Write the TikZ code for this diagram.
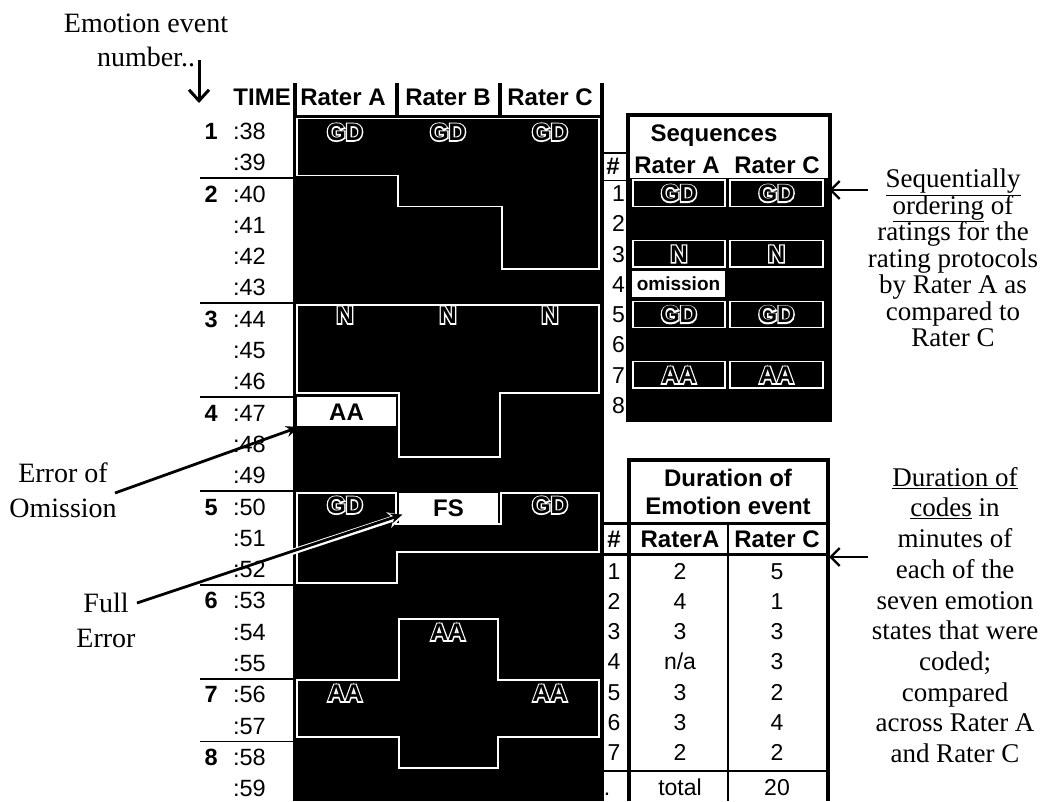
\documentclass[tikz,border=0pt]{standalone}
\usepackage{fontspec}
\setmainfont{Liberation Serif}
\setsansfont{Liberation Sans}
\usetikzlibrary{arrows.meta}
\tikzset{
  hdr/.style={font=\sffamily\bfseries\fontsize{24}{26}\selectfont, inner sep=0pt, text height=17pt, text depth=0pt},
  tm/.style={font=\sffamily\fontsize{23.5}{25}\selectfont, inner sep=0pt, anchor=east, text height=16.8pt, text depth=0pt},
  evn/.style={tm, font=\sffamily\bfseries\fontsize{23.5}{25}\selectfont},
  num/.style={font=\sffamily\fontsize{23}{25}\selectfont, inner sep=0pt, text height=16.5pt, text depth=0pt},
  codeW/.style={font=\sffamily\bfseries\fontsize{24}{26}\selectfont\addfontfeature{FakeBold=11}, inner sep=0pt, text=white, text height=17pt, text depth=0pt},
  codeB/.style={font=\sffamily\bfseries\fontsize{24}{26}\selectfont, inner sep=0pt, text=black, text height=17pt, text depth=0pt},
  ann/.style={align=center, inner sep=0pt},
  wline/.style={draw=white, line width=1.3pt, line join=miter},
  bar/.style={line width=#1},
}
\newcommand\hcode[4]{%
  \node[codeW] (#1w) at (#2,#3) {#4};%
  \node[codeB] (#1) at (#2,#3) {#4};}
\begin{document}
\begin{tikzpicture}[x=1pt,y=-1pt]
\useasboundingbox[fill=white] (0,0) rectangle (1048,801);

% ---------- main grid ----------
\fill[black] (293,115) rectangle (604,801);
\foreach \x in {295,397,500,602} \draw[bar=4pt] (\x,83) -- (\x,116);
\node[hdr, anchor=east] (time) at (291,97) {TIME};
\node[hdr] (ra) at (343,97) {Rater A};
\node[hdr] (rb) at (448,97) {Rater B};
\node[hdr] (rc) at (550,97) {Rater C};

% time labels and event numbers
\foreach \i in {0,...,21} {
  \pgfmathtruncatemacro\t{38+\i}
  \node[tm] (t\i) at (266,{115.4+31.3*(\i+0.5)}) {:\t};
}
\foreach \n/\r in {1/0,2/2,3/6,4/9,5/12,6/15,7/18,8/20}
  \node[evn] (e\n) at (218,{115.4+31.3*(\r+0.5)}) {\n};
\foreach \r in {2,6,9,12,15,18,20}
  \draw[bar=1.8pt] (200,{115.4+31.3*\r}) -- (294,{115.4+31.3*\r});

% white outlines of agreeing events
\draw[wline] (297,118.5) -- (599,118.5) -- (599,269) -- (502,269) -- (502,206.5)
  -- (398,206.5) -- (398,175.5) -- (297,175.5) -- cycle;
\draw[wline] (297,305) -- (599,305) -- (599,393) -- (500,393) -- (500,457)
  -- (399,457) -- (399,393) -- (297,393) -- cycle;
\draw[wline] (297,493) -- (396,493) -- (396,524) -- (501,524) -- (501,493)
  -- (599,493) -- (599,552) -- (397,552) -- (397,583) -- (297,583) -- cycle;
\draw[wline] (399,619) -- (498,619) -- (498,680) -- (599,680) -- (599,737)
  -- (498,737) -- (498,768) -- (399,768) -- (399,737) -- (297,737)
  -- (297,680) -- (399,680) -- cycle;

% white error boxes
\fill[white] (297,397) rectangle (396,426);
\node[codeB] (aaA) at (346.5,411.5) {AA};
\fill[white] (399,493) rectangle (498,523);
\node[codeB] (fsB) at (448.5,508) {FS};

% hollow codes
\hcode{gd1a}{345}{132}{GD}
\hcode{gd1b}{448}{132}{GD}
\hcode{gd1c}{550}{132}{GD}
\hcode{n3a}{345}{315}{N}
\hcode{n3b}{448}{315}{N}
\hcode{n3c}{550}{315}{N}
\hcode{gd5a}{345}{505}{GD}
\hcode{gd5c}{550}{505}{GD}
\hcode{aa7b}{448}{632}{AA}
\hcode{aa7a}{345}{693}{AA}
\hcode{aa7c}{550}{693}{AA}

% ---------- sequences table ----------
\fill[black] (628,178) rectangle (830,422);
\draw[bar=4pt, line join=miter] (628,422) -- (628,115) -- (830,115) -- (830,422);
\draw[bar=2.5pt] (603,153) -- (628,153);
\draw[bar=1pt] (604,180) -- (628,180);
\node[hdr] (seqh) at (714,133) {Sequences};
\node[hdr] (sqra) at (677,165) {Rater A};
\node[hdr] (sqrc) at (777,165) {Rater C};
\node[hdr] (sqn) at (613,166) {\#};
\foreach \j in {1,...,8}
  \node[num, anchor=east] (sn\j) at (625,{178+30.3*(\j-0.5)}) {\j};
\foreach \j in {1,3,5,7} {
  \draw[wline] (633,{178+30.3*(\j-1)+2}) rectangle (725,{178+30.3*\j-2});
  \draw[wline] (730,{178+30.3*(\j-1)+2}) rectangle (823,{178+30.3*\j-2});
}
\fill[white] (632,{178+30.3*3+2}) rectangle (725,{178+30.3*4-2});
\node[font=\sffamily\bfseries\fontsize{19}{21}\selectfont, inner sep=0pt] (omis) at (678.5,{178+30.3*3.5}) {omission};
\hcode{s1a}{679}{193.2}{GD}
\hcode{s1c}{776.5}{193.2}{GD}
\hcode{s3a}{679}{253.8}{N}
\hcode{s3c}{776.5}{253.8}{N}
\hcode{s5a}{679}{314.4}{GD}
\hcode{s5c}{776.5}{314.4}{GD}
\hcode{s7a}{679}{375}{AA}
\hcode{s7c}{776.5}{375}{AA}

% ---------- duration table ----------
\draw[bar=4pt, line join=miter] (629,801) -- (629,460) -- (828,460) -- (828,801);
\draw[bar=3pt] (603,523) -- (830,523);
\draw[bar=3pt] (603,554) -- (830,554);
\draw[bar=2pt] (603,771) -- (830,771);
\draw[bar=2.5pt] (728,523) -- (728,801);
\node[hdr] (dh1) at (728,478) {Duration of};
\node[hdr] (dh2) at (728,506) {Emotion event};
\node[hdr] (dhn) at (614,539) {\#};
\node[hdr] (dha) at (680,539) {RaterA};
\node[hdr] (dhc) at (777,539) {Rater C};
\foreach \i/\c in {1/5,2/1,3/3,4/3,5/2,6/4,7/2} {
  \node[num] (dn\i) at (614,{571+30.2*(\i-1)}) {\i};
  \node[num] (dc\i) at (777,{571+30.2*(\i-1)}) {\c};
}
\node[num] (da1) at (680,571) {2};
\node[num] (da2) at (680,601.2) {4};
\node[num] (da3) at (680,631.4) {3};
\node[num] (da4) at (680,661.6) {n/a};
\node[num] (da5) at (680,691.8) {3};
\node[num] (da6) at (680,722) {3};
\node[num] (da7) at (680,752.2) {2};
\node[num] (ddot) at (607,787) {.};
\node[num] (dtot) at (680,787) {total};
\node[num] (dsum) at (777,787) {20};

% ---------- annotations ----------
\node[ann, font={\fontsize{28}{34}\selectfont\lineskiplimit=-20pt}] (evt) at (146,40) {Emotion event\\number..};
\node[ann, font={\fontsize{28}{35}\selectfont\lineskiplimit=-20pt}] (omi) at (63,490) {Error of\\Omission};
\node[ann, font={\fontsize{28}{35}\selectfont\lineskiplimit=-20pt}] (full) at (106,620) {Full\\Error};
\node[ann, font={\fontsize{27}{26.5}\selectfont\lineskiplimit=-20pt}] (seqt) at (953,258)
  {\underline{Sequentially}\\\underline{ordering} of\\ratings for the\\rating protocols\\by Rater A as\\compared to\\Rater C};
\node[ann, font={\fontsize{27}{30.7}\selectfont\lineskiplimit=-20pt}] (durt) at (955,615)
  {\underline{Duration of}\\\underline{codes} in\\minutes of\\each of the\\seven emotion\\states that were\\coded;\\compared\\across Rater A\\and Rater C};

% arrows
\coordinate (ev1) at (199,60);
\coordinate (ev2) at (199,103);
\draw[bar=3pt, -{Straight Barb[length=11pt,width=20pt]}] (ev1) -- (ev2);
\coordinate (sq1) at (868,190);
\coordinate (sq2) at (829,190);
\draw[bar=2.4pt, -{Straight Barb[length=9pt,width=18pt]}] (sq1) -- (sq2);
\coordinate (du1) at (868,557);
\coordinate (du2) at (829,557);
\draw[bar=2.4pt, -{Straight Barb[length=9pt,width=18pt]}] (du1) -- (du2);
\coordinate (om1) at (115,493);
\coordinate (om2) at (299,427);
\draw[bar=2.8pt, -{Stealth[length=13pt,width=11pt]}] (om1) -- (om2);
\coordinate (fe1) at (137,603);
\coordinate (fe2) at (404,515);
\begin{scope}
  \clip (293,115) rectangle (604,801);
  \draw[white, bar=6pt, -{Stealth[length=16pt,width=16pt]}] (fe1) -- (fe2);
\end{scope}
\draw[bar=2.8pt, -{Stealth[length=12pt,width=10pt]}] (fe1) -- ([shift={(-1.5pt,0.5pt)}]fe2);
\end{tikzpicture}
\end{document}
